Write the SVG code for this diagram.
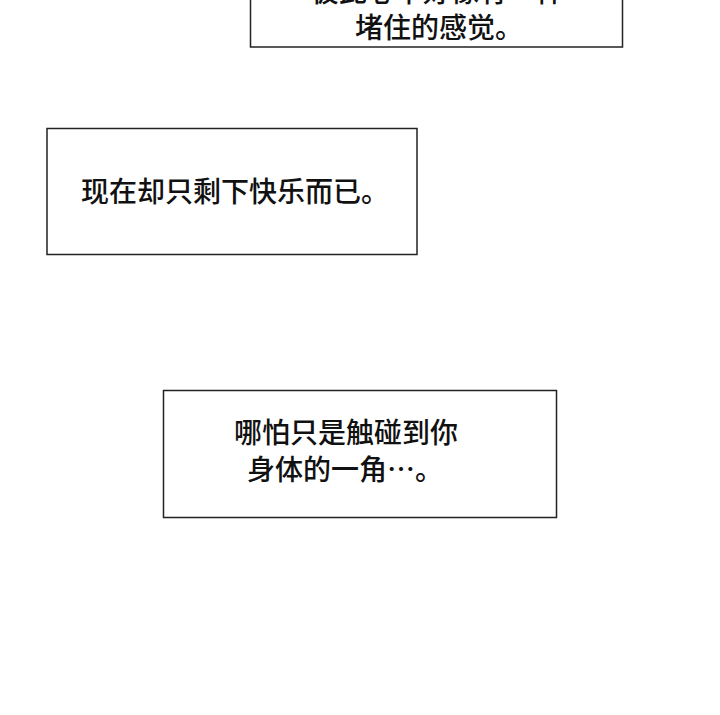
<svg xmlns="http://www.w3.org/2000/svg" width="720" height="715" viewBox="0 0 720 715">
<style>
.b{fill:#fff;stroke:#222;stroke-width:1.5}
.t{font-family:"Noto Sans CJK SC",sans-serif;font-size:28px;font-weight:500;fill:#111}
</style>
<rect width="720" height="715" fill="#fff"/>
<g id="box1"><rect class="b" x="250.5" y="-5" width="372" height="52"/>
<text class="t" x="437" y="2" text-anchor="middle">彼此心中好像有一种</text>
<text class="t" x="439" y="38" text-anchor="middle">堵住的感觉。</text></g>
<g id="box2"><rect class="b" x="47" y="128.5" width="370" height="126"/>
<text class="t" x="235" y="202" text-anchor="middle">现在却只剩下快乐而已。</text></g>
<g id="box3"><rect class="b" x="163.5" y="390.5" width="393" height="127"/>
<text class="t" x="234" y="443">哪怕只是触碰到你</text>
<text class="t" x="247" y="480">身体的一角…。</text></g>
<g id="connectors"/>
</svg>
